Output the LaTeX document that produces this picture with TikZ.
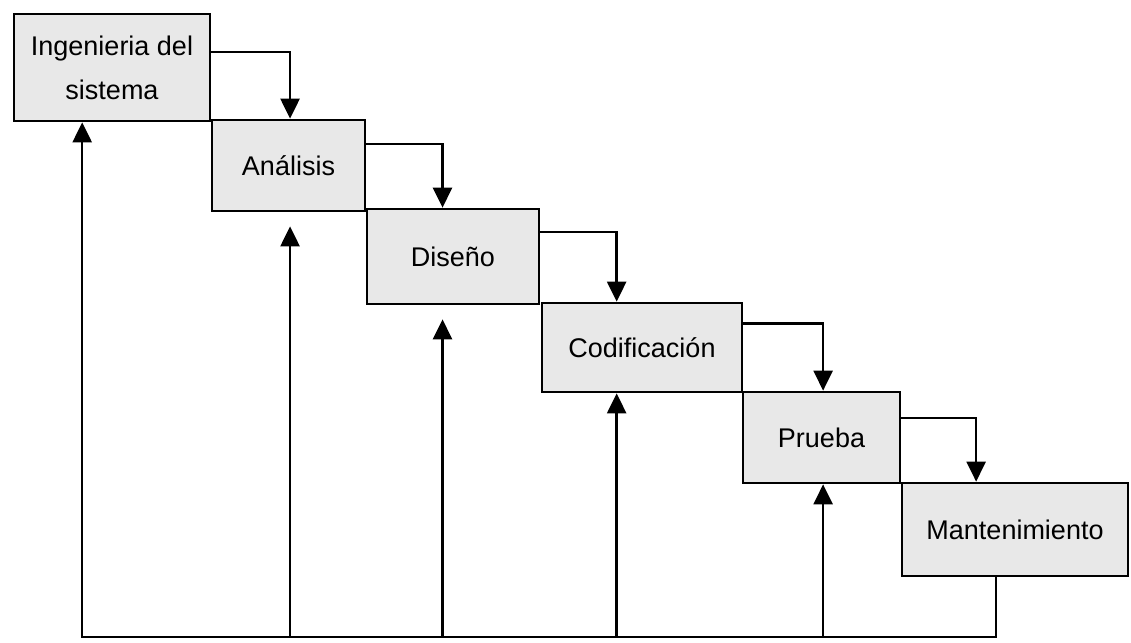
\documentclass[tikz,border=0pt]{standalone}
\usepackage{fontspec}
\setmainfont{Liberation Sans}
\usetikzlibrary{arrows.meta,calc}

\begin{document}
\begin{tikzpicture}[x=1pt,y=-1pt,
  fase/.style={draw,line width=2.7pt,fill=black!9,align=center,
               font=\fontsize{27}{44}\selectfont,inner sep=0pt},
  flecha/.style={line width=2.5pt,-{Triangle[length=20pt,width=19pt]}}
]
  \useasboundingbox (0,0) rectangle (1131,642);
  % fases del ciclo
  \node[fase,minimum width=196pt,minimum height=107pt] (ing) at (112,67.5) {Ingenieria del\\sistema};
  \node[fase,minimum width=153pt,minimum height=91pt]  (ana) at (288.5,165.5) {Análisis};
  \node[fase,minimum width=172pt,minimum height=95pt]  (dis) at (453,256.5) {Diseño};
  \node[fase,minimum width=200pt,minimum height=89pt]  (cod) at (642,347.5) {Codificación};
  \node[fase,minimum width=157pt,minimum height=91pt]  (pru) at (821.5,437.5) {Prueba};
  \node[fase,minimum width=226pt,minimum height=93pt]  (man) at (1015,529.5) {Mantenimiento};

  \coordinate (out1) at ($(ing.north east)!0.36!(ing.south east)$);
  \coordinate (out2) at ($(ana.north east)!0.27!(ana.south east)$);
  \coordinate (out3) at ($(dis.north east)!0.25!(dis.south east)$);
  \coordinate (out4) at ($(cod.north east)!0.24!(cod.south east)$);
  \coordinate (out5) at ($(pru.north east)!0.29!(pru.south east)$);
  \coordinate (in2) at ($(ana.north west)!0.51!(ana.north east)$);
  \coordinate (in3) at ($(dis.north west)!0.44!(dis.north east)$);
  \coordinate (in4) at ($(cod.north west)!0.375!(cod.north east)$);
  \coordinate (in5) at ($(pru.north west)!0.51!(pru.north east)$);
  \coordinate (in6) at ($(man.north west)!0.33!(man.north east)$);
  \coordinate (ret6) at ($(man.south west)!0.416!(man.south east)$);
  \coordinate (ret1) at ($(ing.south west)!0.35!(ing.south east)$);
  \coordinate (base) at (0,637);

  % avance
  \draw[flecha] (out1) -| (in2);
  \draw[flecha] (out2) -| (in3);
  \draw[flecha] (out3) -| (in4);
  \draw[flecha] (out4) -| (in5);
  \draw[flecha] (out5) -| (in6);

  % retroalimentacion
  \draw[flecha] (ret6) |- (base -| ret1) -- (ret1);
  \draw[flecha] (base -| in2) -- ($(ana.south -| in2)+(0,14)$);
  \draw[flecha] (base -| in3) -- ($(dis.south -| in3)+(0,14)$);
  \draw[flecha] (base -| in4) -- (cod.south -| in4);
  \draw[flecha] (base -| in5) -- (pru.south -| in5);
\end{tikzpicture}
\end{document}
